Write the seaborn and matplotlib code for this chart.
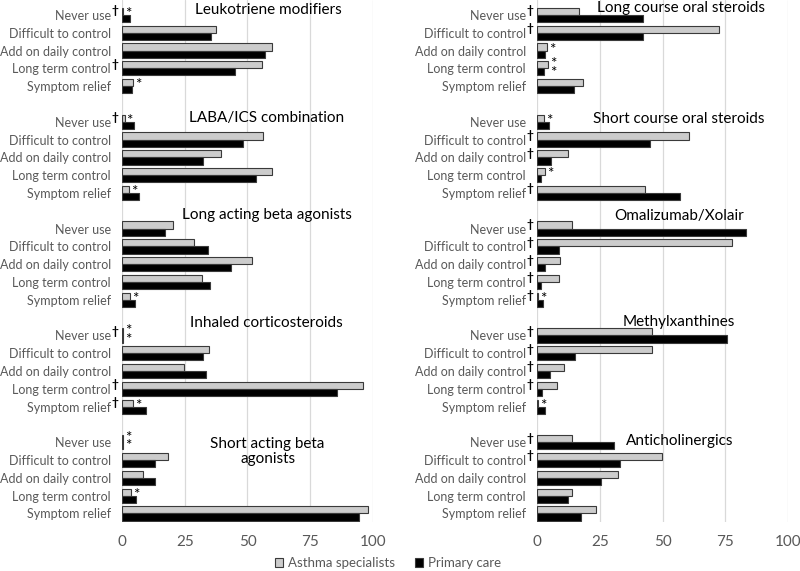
import matplotlib
matplotlib.use("Agg")
import pandas as pd
import matplotlib.pyplot as plt
import seaborn as sns

# ── DATA (percent of respondents) ──────────────────────────
categorias = ["Never use", "Difficult to control", "Add on daily control",
              "Long term control", "Symptom relief"]
grupos = ["Asthma specialists", "Primary care"]

# left column
titulos_izq = ["Leukotriene modifiers", "LABA/ICS combination",
               "Long acting beta agonists", "Inhaled corticosteroids",
               "Short acting beta\nagonists"]
leuko_esp = [0.5, 37.4, 59.9, 55.9, 4.5]
leuko_ap = [3.2, 35.5, 56.8, 45.1, 4.0]
labaics_esp = [1.0, 56.0, 39.3, 59.6, 2.9]
labaics_ap = [4.9, 48.2, 32.4, 53.3, 6.8]
laba_esp = [20.4, 28.8, 51.7, 32.0, 3.2]
laba_ap = [17.3, 34.4, 43.6, 35.1, 5.0]
ics_esp = [0.3, 34.8, 24.8, 95.9, 4.5]
ics_ap = [0.5, 32.4, 33.3, 85.5, 9.4]
saba_esp = [0.3, 18.2, 8.2, 3.6, 97.9]
saba_ap = [0.5, 13.1, 13.1, 5.6, 94.4]

# right column
titulos_der = ["Long course oral steroids", "Short course oral steroids",
               "Omalizumab/Xolair", "Methylxanthines", "Anticholinergics"]
lcos_esp = [16.6, 72.4, 4.0, 4.5, 18.5]
lcos_ap = [42.3, 42.3, 3.0, 2.8, 14.7]
scos_esp = [2.9, 60.7, 12.2, 3.3, 43.2]
scos_ap = [4.6, 45.2, 5.4, 1.6, 57.0]
omali_esp = [14.0, 77.8, 9.1, 8.7, 0.5]
omali_ap = [83.4, 8.6, 3.2, 1.7, 2.2]
metil_esp = [46.0, 46.0, 10.7, 7.8, 0.5]
metil_ap = [75.6, 15.2, 5.0, 2.0, 3.3]
antic_esp = [13.8, 49.7, 32.1, 13.9, 23.6]
antic_ap = [30.8, 33.2, 25.4, 12.5, 17.4]

# † = significant difference, * = small count (category index per panel)
dagas_izq = [[0, 3], [0], [], [0, 3, 4], []]
dagas_der = [[0, 1], [1, 2, 4], [0, 1, 2, 3, 4], [0, 1, 2, 3], [0, 1]]
ast_esp_izq = [[0, 4], [0, 4], [4], [0, 4], [0, 3]]
ast_ap_izq = [[], [], [], [0], [0]]
ast_esp_der = [[2, 3], [0, 3], [4], [4], []]
ast_ap_der = [[3], [], [], [], []]

# title position per panel (x value, row slot)
pos_tit_izq = [(58.2, -0.3), (57.6, 5.8), (57.6, 11.25), (57.5, 17.3), (58.0, 24.5)]
pos_tit_der = [(57.3, -0.4), (56.4, 5.85), (56.5, 11.3), (56.3, 17.25), (57.0, 23.95)]

colores = {"Asthma specialists": "#cccccc", "Primary care": "#000000"}
GRIS_TEXTO = "#595959"
FUENTE = ["Lato", "DejaVu Sans"]


def armar_columna(esp, ap):
    filas, orden = [], []
    for p in range(len(esp)):
        if p > 0:
            orden.append(f"hueco{p}")
        for i, cat in enumerate(categorias):
            clave = f"{p}|{cat}"
            orden.append(clave)
            filas.append({"clave": clave, "grupo": grupos[0], "valor": esp[p][i]})
            filas.append({"clave": clave, "grupo": grupos[1], "valor": ap[p][i]})
    return pd.DataFrame(filas), orden


def dibujar(ax, esp, ap, titulos, pos_tit, dagas, ast_esp, ast_ap, leyenda=False):
    df, orden = armar_columna(esp, ap)
    sns.barplot(data=df, x="valor", y="clave", hue="grupo", order=orden,
                hue_order=grupos, palette=colores, width=0.8, gap=0,
                errorbar=None, edgecolor="#3a3a3a", linewidth=0.8,
                legend=leyenda, ax=ax)
    ax.set_xlim(0, 100)
    ax.set_ylim(28.48, -0.84)
    ax.set_xticks([0, 25, 50, 75, 100])
    ax.set_yticks(range(len(orden)))
    ax.set_yticklabels([k.split("|")[1] if "|" in k else "" for k in orden])
    ax.set_xlabel("")
    ax.set_ylabel("")
    ax.grid(axis="x", color="#d9d9d9", linewidth=0.9)
    ax.grid(axis="y", visible=False)
    ax.set_axisbelow(True)
    for s in ax.spines.values():
        s.set_visible(False)
    ax.tick_params(axis="y", length=0, pad=8, labelcolor=GRIS_TEXTO, labelsize=9.0)
    ax.tick_params(axis="x", length=0, pad=9, labelcolor=GRIS_TEXTO, labelsize=11)

    for p, titulo in enumerate(titulos):
        x, y = pos_tit[p]
        ax.text(x, y, titulo, ha="center", va="center", fontsize=11,
                color="black", linespacing=1.1)
        for i in dagas[p]:
            ax.annotate("†", xy=(0, 6 * p + i), xycoords=ax.get_yaxis_transform(),
                        xytext=(-5, 3), textcoords="offset points",
                        ha="center", va="center", fontsize=8.5, fontweight="bold",
                        color="black", annotation_clip=False)
        # asterisks to the right of the flagged bar(s)
        for i in range(len(categorias)):
            en_esp, en_ap = i in ast_esp[p], i in ast_ap[p]
            if en_esp and en_ap:
                ax.annotate("*\n*", xy=(max(esp[p][i], ap[p][i]), 6 * p + i),
                            xytext=(1.2, 0), textcoords="offset points",
                            ha="left", va="center", fontsize=11,
                            linespacing=0.5, color="black")
            elif en_esp:
                ax.annotate("*", xy=(esp[p][i], 6 * p + i - 0.2), xytext=(1.2, -2),
                            textcoords="offset points", ha="left", va="center",
                            fontsize=11, color="black")
            elif en_ap:
                ax.annotate("*", xy=(ap[p][i], 6 * p + i + 0.2), xytext=(1.2, -2),
                            textcoords="offset points", ha="left", va="center",
                            fontsize=11, color="black")


# ── FIGURE ─────────────────────────────────────────────────
sns.set_style("white")
plt.rcParams["font.family"] = FUENTE

fig = plt.figure(figsize=(8, 5.71), dpi=100)
ax_izq = fig.add_axes([122 / 800, 49 / 571, 251 / 800, 522 / 571])
ax_der = fig.add_axes([537 / 800, 49 / 571, 251 / 800, 522 / 571])

dibujar(ax_izq,
        [leuko_esp, labaics_esp, laba_esp, ics_esp, saba_esp],
        [leuko_ap, labaics_ap, laba_ap, ics_ap, saba_ap],
        titulos_izq, pos_tit_izq, dagas_izq, ast_esp_izq, ast_ap_izq, leyenda=True)
dibujar(ax_der,
        [lcos_esp, scos_esp, omali_esp, metil_esp, antic_esp],
        [lcos_ap, scos_ap, omali_ap, metil_ap, antic_ap],
        titulos_der, pos_tit_der, dagas_der, ast_esp_der, ast_ap_der)

handles, labels = ax_izq.get_legend_handles_labels()
ax_izq.get_legend().remove()
fig.legend(handles, labels, loc="center", bbox_to_anchor=(388 / 800, 8 / 571),
           ncol=2, frameon=False, fontsize=9.5, labelcolor=GRIS_TEXTO,
           handlelength=0.6, handleheight=0.6, handletextpad=0.4, columnspacing=1.5)

fig.savefig("out.png", dpi=100)
